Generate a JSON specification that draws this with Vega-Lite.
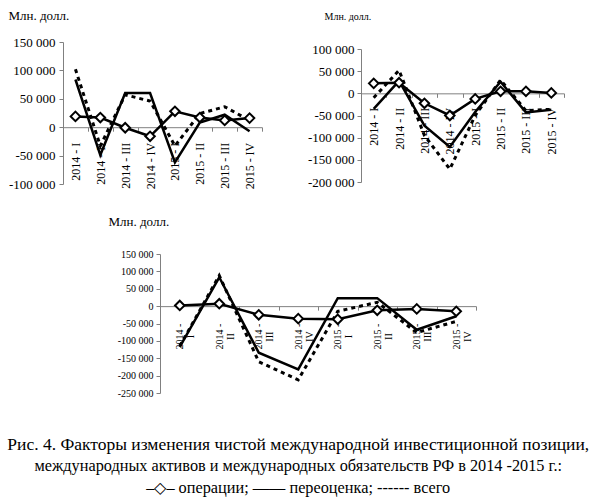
{
  "$schema": "https://vega.github.io/schema/vega-lite/v6.json",
  "padding": {"left": 7, "top": 9, "right": 5, "bottom": 5},
  "background": "white",
  "config": {
    "view": {"stroke": null},
    "font": "Liberation Serif",
    "axis": {"labelColor": "black", "labelFont": "Liberation Serif", "domainColor": "#808080", "tickColor": "#808080", "grid": false, "titleFont": "Liberation Serif", "titleColor": "black", "titleFontWeight": "normal"}
  },
  "title": {
    "text": "Рис. 4. Факторы изменения чистой международной инвестиционной позиции,",
    "subtitle": ["международных активов и международных обязательств РФ в 2014 -2015 г.:", "–◇– операции; —— переоценка; ------ всего"],
    "orient": "bottom", "anchor": "middle", "font": "Liberation Serif", "fontSize": 17.5, "fontWeight": "normal", "color": "black", "lineHeight": 22, "offset": 38,
    "subtitleFont": "Liberation Serif", "subtitleFontSize": 16.3, "subtitleColor": "black", "subtitleLineHeight": 22, "subtitlePadding": 4, "dx": 12
  },
  "datasets": {
    "d": [
      {"panel": 1, "q": "2014 - I", "s": "операции", "v": 19000},
      {"panel": 1, "q": "2014 - II", "s": "операции", "v": 17000},
      {"panel": 1, "q": "2014 - III", "s": "операции", "v": -1000},
      {"panel": 1, "q": "2014 - IV", "s": "операции", "v": -16000},
      {"panel": 1, "q": "2015 - I", "s": "операции", "v": 28000},
      {"panel": 1, "q": "2015 - II", "s": "операции", "v": 17000},
      {"panel": 1, "q": "2015 - III", "s": "операции", "v": 12000},
      {"panel": 1, "q": "2015 - IV", "s": "операции", "v": 16000},
      {"panel": 1, "q": "2014 - I", "s": "переоценка", "v": 84000},
      {"panel": 1, "q": "2014 - II", "s": "переоценка", "v": -49000},
      {"panel": 1, "q": "2014 - III", "s": "переоценка", "v": 60000},
      {"panel": 1, "q": "2014 - IV", "s": "переоценка", "v": 60000},
      {"panel": 1, "q": "2015 - I", "s": "переоценка", "v": -62000},
      {"panel": 1, "q": "2015 - II", "s": "переоценка", "v": 8000},
      {"panel": 1, "q": "2015 - III", "s": "переоценка", "v": 22000},
      {"panel": 1, "q": "2015 - IV", "s": "переоценка", "v": -7000},
      {"panel": 1, "q": "2014 - I", "s": "всего", "v": 102000},
      {"panel": 1, "q": "2014 - II", "s": "всего", "v": -33000},
      {"panel": 1, "q": "2014 - III", "s": "всего", "v": 57000},
      {"panel": 1, "q": "2014 - IV", "s": "всего", "v": 46000},
      {"panel": 1, "q": "2015 - I", "s": "всего", "v": -33000},
      {"panel": 1, "q": "2015 - II", "s": "всего", "v": 24000},
      {"panel": 1, "q": "2015 - III", "s": "всего", "v": 36000},
      {"panel": 1, "q": "2015 - IV", "s": "всего", "v": 12000},
      {"panel": 2, "q": "2014 - I", "s": "операции", "v": 22500},
      {"panel": 2, "q": "2014 - II", "s": "операции", "v": 24000},
      {"panel": 2, "q": "2014 - III", "s": "операции", "v": -22500},
      {"panel": 2, "q": "2014 - IV", "s": "операции", "v": -50000},
      {"panel": 2, "q": "2015 - I", "s": "операции", "v": -12500},
      {"panel": 2, "q": "2015 - II", "s": "операции", "v": 4500},
      {"panel": 2, "q": "2015 - III", "s": "операции", "v": 4500},
      {"panel": 2, "q": "2015 - IV", "s": "операции", "v": 1000},
      {"panel": 2, "q": "2014 - I", "s": "переоценка", "v": -35000},
      {"panel": 2, "q": "2014 - II", "s": "переоценка", "v": 28000},
      {"panel": 2, "q": "2014 - III", "s": "переоценка", "v": -73000},
      {"panel": 2, "q": "2014 - IV", "s": "переоценка", "v": -121000},
      {"panel": 2, "q": "2015 - I", "s": "переоценка", "v": -42000},
      {"panel": 2, "q": "2015 - II", "s": "переоценка", "v": 26000},
      {"panel": 2, "q": "2015 - III", "s": "переоценка", "v": -43000},
      {"panel": 2, "q": "2015 - IV", "s": "переоценка", "v": -37000},
      {"panel": 2, "q": "2014 - I", "s": "всего", "v": -10000},
      {"panel": 2, "q": "2014 - II", "s": "всего", "v": 52000},
      {"panel": 2, "q": "2014 - III", "s": "всего", "v": -95000},
      {"panel": 2, "q": "2014 - IV", "s": "всего", "v": -171000},
      {"panel": 2, "q": "2015 - I", "s": "всего", "v": -50000},
      {"panel": 2, "q": "2015 - II", "s": "всего", "v": 30000},
      {"panel": 2, "q": "2015 - III", "s": "всего", "v": -39000},
      {"panel": 2, "q": "2015 - IV", "s": "всего", "v": -36000},
      {"panel": 3, "q": "2014 - I", "s": "операции", "v": 2000},
      {"panel": 3, "q": "2014 - II", "s": "операции", "v": 7000},
      {"panel": 3, "q": "2014 - III", "s": "операции", "v": -25000},
      {"panel": 3, "q": "2014 - IV", "s": "операции", "v": -36000},
      {"panel": 3, "q": "2015 - I", "s": "операции", "v": -38000},
      {"panel": 3, "q": "2015 - II", "s": "операции", "v": -12000},
      {"panel": 3, "q": "2015 - III", "s": "операции", "v": -8000},
      {"panel": 3, "q": "2015 - IV", "s": "операции", "v": -15000},
      {"panel": 3, "q": "2014 - I", "s": "переоценка", "v": -117000},
      {"panel": 3, "q": "2014 - II", "s": "переоценка", "v": 83000},
      {"panel": 3, "q": "2014 - III", "s": "переоценка", "v": -134000},
      {"panel": 3, "q": "2014 - IV", "s": "переоценка", "v": -182000},
      {"panel": 3, "q": "2015 - I", "s": "переоценка", "v": 23000},
      {"panel": 3, "q": "2015 - II", "s": "переоценка", "v": 23000},
      {"panel": 3, "q": "2015 - III", "s": "переоценка", "v": -68000},
      {"panel": 3, "q": "2015 - IV", "s": "переоценка", "v": -29000},
      {"panel": 3, "q": "2014 - I", "s": "всего", "v": -115000},
      {"panel": 3, "q": "2014 - II", "s": "всего", "v": 88000},
      {"panel": 3, "q": "2014 - III", "s": "всего", "v": -160000},
      {"panel": 3, "q": "2014 - IV", "s": "всего", "v": -212000},
      {"panel": 3, "q": "2015 - I", "s": "всего", "v": -15000},
      {"panel": 3, "q": "2015 - II", "s": "всего", "v": 11000},
      {"panel": 3, "q": "2015 - III", "s": "всего", "v": -76000},
      {"panel": 3, "q": "2015 - IV", "s": "всего", "v": -44000}
    ]
  },
  "bounds": "flush",
  "spacing": 212,
  "vconcat": [
    {
      "bounds": "flush",
      "spacing": 99,
      "hconcat": [
        {
          "width": 199, "height": 142,
          "data": {"name": "d"},
          "transform": [{"filter": "datum.panel == 1"}],
          "encoding": {
            "x": {"field": "q", "type": "nominal", "sort": null, "scale": {"type": "band", "paddingInner": 0, "paddingOuter": 0},
              "axis": {"title": null, "orient": "bottom", "offset": -56.8, "tickBand": "extent", "tickSize": 4, "labelAngle": 270, "labelAlign": "right", "labelBaseline": "middle", "labelPadding": 11, "labelFontSize": 12, "labelOverlap": false, "labelBound": false}},
            "y": {"field": "v", "type": "quantitative", "scale": {"domain": [-100000, 150000], "nice": false, "zero": false},
              "axis": {"values": [-100000, -50000, 0, 50000, 100000, 150000], "tickSize": 4, "labelPadding": 4, "labelFontSize": 13,
                "labelExpr": "replace(replace(format(datum.value, ',d'), ',', ' '), '\u2212', '-')",
                "title": "Млн. долл.", "titleAngle": 0, "titleX": -55, "titleY": -27, "titleAlign": "left", "titleBaseline": "middle", "titleFontSize": 13}}
          },
          "layer": [
            {"transform": [{"filter": "datum.s == 'всего'"}], "mark": {"type": "line", "color": "black", "strokeWidth": 3, "strokeDash": [4, 4]}},
            {"transform": [{"filter": "datum.s == 'переоценка'"}], "mark": {"type": "line", "color": "black", "strokeWidth": 2.5}},
            {"transform": [{"filter": "datum.s == 'операции'"}], "mark": {"type": "line", "color": "black", "strokeWidth": 2.5}},
            {"transform": [{"filter": "datum.s == 'операции'"}], "mark": {"type": "point", "shape": "diamond", "filled": true, "fill": "white", "stroke": "black", "strokeWidth": 2, "size": 90, "opacity": 1}}
          ]
        },
        {
          "bounds": "flush",
          "spacing": 0,
          "vconcat": [
            {"width": 203, "height": 7, "data": {"values": [{"b": 0}]}, "mark": {"type": "point", "opacity": 0}, "encoding": {}},
            {
              "width": 203, "height": 133,
              "data": {"name": "d"},
              "transform": [{"filter": "datum.panel == 2"}],
              "encoding": {
                "x": {"field": "q", "type": "nominal", "sort": null, "scale": {"type": "band", "paddingInner": 0, "paddingOuter": 0},
                  "axis": {"title": null, "orient": "bottom", "offset": -88.67, "tickBand": "extent", "tickSize": 4, "labelAngle": 270, "labelAlign": "right", "labelBaseline": "middle", "labelPadding": 10, "labelFontSize": 12, "labelOverlap": false, "labelBound": false}},
                "y": {"field": "v", "type": "quantitative", "scale": {"domain": [-200000, 100000], "nice": false, "zero": false},
                  "axis": {"values": [-200000, -150000, -100000, -50000, 0, 50000, 100000], "tickSize": 4, "labelPadding": 3, "labelFontSize": 13,
                    "labelExpr": "replace(replace(format(datum.value, ',d'), ',', ' '), '\u2212', '-')",
                    "title": "Млн. долл.", "titleAngle": 0, "titleX": -37, "titleY": -33, "titleAlign": "left", "titleBaseline": "middle", "titleFontSize": 10}}
              },
              "layer": [
                {"transform": [{"filter": "datum.s == 'всего'"}], "mark": {"type": "line", "color": "black", "strokeWidth": 3, "strokeDash": [4, 4]}},
                {"transform": [{"filter": "datum.s == 'переоценка'"}], "mark": {"type": "line", "color": "black", "strokeWidth": 2.5}},
                {"transform": [{"filter": "datum.s == 'операции'"}], "mark": {"type": "line", "color": "black", "strokeWidth": 2.5}},
                {"transform": [{"filter": "datum.s == 'операции'"}], "mark": {"type": "point", "shape": "diamond", "filled": true, "fill": "white", "stroke": "black", "strokeWidth": 2, "size": 90, "opacity": 1}}
              ]
            }
          ]
        }
      ]
    },
    {
      "bounds": "flush",
      "spacing": 0,
      "hconcat": [
        {"width": 97, "height": 10, "data": {"values": [{"b": 0}]}, "mark": {"type": "point", "opacity": 0}, "encoding": {}},
        {
          "width": 316, "height": 139,
          "data": {"name": "d"},
          "transform": [{"filter": "datum.panel == 3"}],
          "encoding": {
            "x": {"field": "q", "type": "nominal", "sort": null, "scale": {"type": "band", "paddingInner": 0, "paddingOuter": 0},
              "axis": {"title": null, "orient": "bottom", "offset": -86.875, "tickBand": "extent", "tickSize": 4, "labelAngle": 270, "labelAlign": "center", "labelBaseline": "middle", "labelPadding": 26, "labelFontSize": 10, "labelLineHeight": 11, "labelOverlap": false, "labelBound": false,
                "labelExpr": "[slice(datum.label, 0, 6), slice(datum.label, 7)]"}},
            "y": {"field": "v", "type": "quantitative", "scale": {"domain": [-250000, 150000], "nice": false, "zero": false},
              "axis": {"values": [-250000, -200000, -150000, -100000, -50000, 0, 50000, 100000, 150000], "tickSize": 4, "labelPadding": 3, "labelFontSize": 10,
                "labelExpr": "replace(replace(format(datum.value, ',d'), ',', ' '), '\u2212', '-')",
                "title": "Млн. долл.", "titleAngle": 0, "titleX": -52, "titleY": -33, "titleAlign": "left", "titleBaseline": "middle", "titleFontSize": 13}}
          },
          "layer": [
            {"transform": [{"filter": "datum.s == 'всего'"}], "mark": {"type": "line", "color": "black", "strokeWidth": 3, "strokeDash": [4, 4]}},
            {"transform": [{"filter": "datum.s == 'переоценка'"}], "mark": {"type": "line", "color": "black", "strokeWidth": 2.5}},
            {"transform": [{"filter": "datum.s == 'операции'"}], "mark": {"type": "line", "color": "black", "strokeWidth": 2.5}},
            {"transform": [{"filter": "datum.s == 'операции'"}], "mark": {"type": "point", "shape": "diamond", "filled": true, "fill": "white", "stroke": "black", "strokeWidth": 2, "size": 90, "opacity": 1}}
          ]
        }
      ]
    }
  ]
}
